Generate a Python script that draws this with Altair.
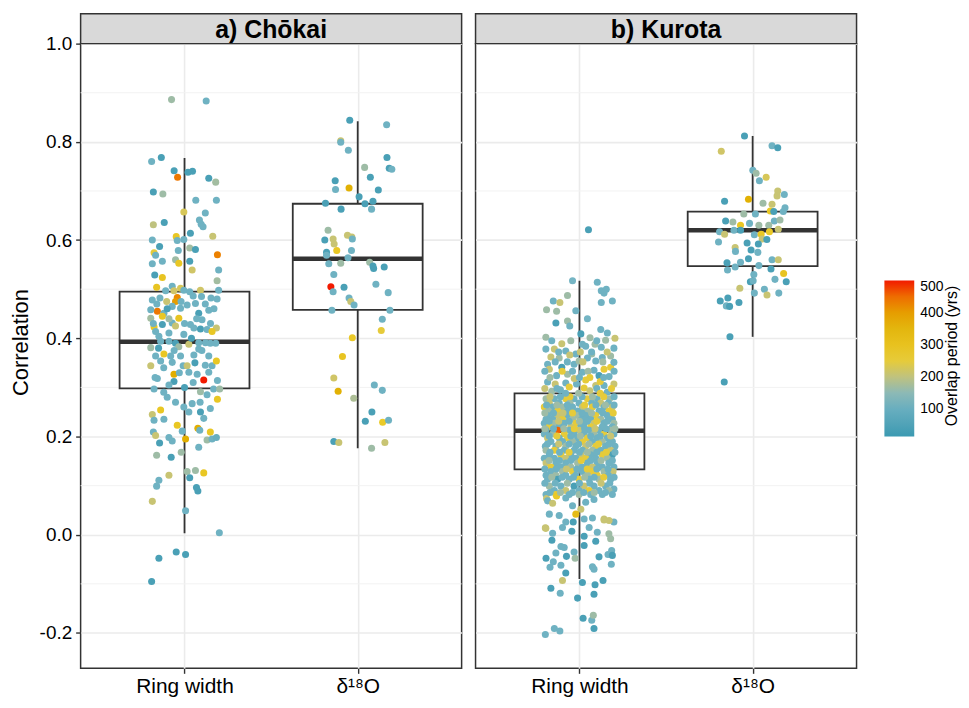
import altair as alt
import pandas as pd

PANELS = ["a) Chōkai", "b) Kurota"]
PROXIES = ["Ring width", "δ¹⁸O"]
Y_TICKS = [-0.2, 0.0, 0.2, 0.4, 0.6, 0.8, 1.0]
Y_MINOR = [-0.1, 0.1, 0.3, 0.5, 0.7, 0.9]
LEGEND_TITLE = "Overlap period (yrs)"
LEGEND_TICKS = [100, 200, 300, 400, 500]
COLOR_STOPS = [15, 136.25, 257.5, 378.75, 500]
COLORS = ["#3B9AB2", "#78B7C5", "#EBCC2A", "#E1AF00", "#F21A00"]

# boxplot statistics (Chōkai RW, Chōkai δ18O, Kurota RW, Kurota δ18O)
BOX_PANEL = [0, 0, 1, 1]
BOX_PROXY = [0, 1, 0, 1]
BOX_LOW = [0.003, 0.176, -0.090, 0.403]
BOX_Q1 = [0.298, 0.458, 0.133, 0.547]
BOX_MED = [0.393, 0.562, 0.212, 0.620]
BOX_Q3 = [0.495, 0.674, 0.288, 0.658]
BOX_HIGH = [0.767, 0.842, 0.517, 0.812]

# points: (jitter, correlation, overlap period)
CHOKAI_RW = [
    (-0.075, 0.886, 165), (0.125, 0.883, 115), (-0.19, 0.76, 115), (-0.134, 0.768, 40), (-0.06, 0.741, 40),
    (-0.04, 0.728, 440), (0.02, 0.738, 40), (0.046, 0.74, 40), (0.14, 0.726, 40), (0.18, 0.718, 170),
    (-0.18, 0.698, 40), (-0.125, 0.694, 165), (0.065, 0.681, 115), (0.184, 0.681, 115), (-0.004, 0.657, 230),
    (0.12, 0.655, 115), (-0.18, 0.631, 200), (-0.117, 0.636, 40), (0.086, 0.641, 115), (0.096, 0.632, 115),
    (0.107, 0.627, 115), (0.034, 0.614, 40), (0.163, 0.608, 210), (-0.186, 0.600, 115), (-0.048, 0.607, 280),
    (-0.042, 0.599, 115), (-0.004, 0.601, 115), (-0.144, 0.587, 40), (-0.176, 0.574, 250), (0.03, 0.584, 170),
    (0.063, 0.581, 40), (0.19, 0.570, 430), (-0.036, 0.579, 115), (-0.167, 0.569, 115),
    (-0.186, 0.552, 115), (-0.128, 0.557, 115), (-0.052, 0.560, 165), (-0.033, 0.553, 280), (0.03, 0.557, 40),
    (0.044, 0.539, 220), (0.197, 0.539, 115), (-0.172, 0.529, 40), (-0.128, 0.524, 290), (0.188, 0.517, 170),
    (-0.161, 0.504, 290), (-0.071, 0.506, 115), (-0.109, 0.497, 115), (-0.061, 0.497, 220), (-0.023, 0.502, 230),
    (-0.004, 0.498, 115), (0.03, 0.495, 115), (0.092, 0.498, 220), (0.197, 0.498, 115), (-0.042, 0.483, 420),
    (-0.052, 0.475, 400), (-0.186, 0.478, 115), (-0.142, 0.482, 115), (-0.103, 0.475, 210), (0.05, 0.486, 115),
    (0.098, 0.485, 115), (0.153, 0.482, 115), (0.188, 0.480, 115), (0.015, 0.468, 115), (0.063, 0.471, 115),
    (-0.071, 0.465, 115), (-0.023, 0.461, 115), (-0.157, 0.455, 440), (-0.195, 0.458, 115), (-0.119, 0.451, 115),
    (0.14, 0.457, 115), (0.082, 0.451, 40), (-0.195, 0.441, 170), (-0.033, 0.441, 290), (-0.128, 0.445, 280),
    (0.101, 0.438, 115), (-0.071, 0.431, 115), (0.034, 0.428, 115), (-0.128, 0.428, 40), (-0.176, 0.423, 280),
    (-0.052, 0.425, 210), (0.184, 0.421, 210), (-0.167, 0.414, 115), (0.054, 0.421, 115), (0.092, 0.419, 40),
    (0.13, 0.418, 115), (0.159, 0.414, 280), (-0.148, 0.404, 115), (-0.09, 0.411, 115), (-0.004, 0.408, 115),
    (-0.138, 0.394, 115), (-0.09, 0.394, 115), (-0.052, 0.390, 40), (0.025, 0.388, 210), (0.082, 0.391, 115),
    (0.121, 0.391, 115), (0.149, 0.390, 115), (-0.195, 0.381, 165), (-0.033, 0.383, 165), (0.082, 0.378, 115),
    (-0.167, 0.364, 115), (-0.119, 0.368, 280), (-0.08, 0.364, 115), (-0.023, 0.364, 115), (0.054, 0.366, 115),
    (0.14, 0.364, 115), (-0.195, 0.344, 210), (-0.138, 0.354, 115), (-0.071, 0.351, 115), (-0.008, 0.344, 115),
    (0.159, 0.344, 115), (0.184, 0.354, 280), (0.015, 0.344, 210), (0.025, 0.331, 115), (0.073, 0.327, 115),
    (-0.061, 0.327, 380), (0.111, 0.315, 500), (0.14, 0.331, 115), (-0.157, 0.318, 115), (-0.061, 0.312, 40),
    (-0.09, 0.305, 115), (-0.176, 0.297, 115), (0.19, 0.314, 115), (0.168, 0.297, 115), (0.203, 0.297, 165),
    (0.092, 0.291, 165), (0.19, 0.276, 280), (-0.1, 0.280, 115), (-0.052, 0.270, 115), (-0.004, 0.260, 115),
    (0.044, 0.267, 115), (0.149, 0.257, 115), (0.025, 0.250, 115), (0.092, 0.250, 40), (-0.186, 0.245, 210),
    (-0.138, 0.254, 280), (-0.176, 0.233, 115), (-0.119, 0.235, 115), (0.111, 0.237, 115),
    (-0.042, 0.223, 280), (0.077, 0.217, 380), (0.149, 0.209, 280), (-0.18, 0.209, 115), (-0.167, 0.202, 210),
    (-0.013, 0.211, 115), (0.088, 0.213, 115), (-0.09, 0.198, 115), (-0.071, 0.191, 115), (0.006, 0.195, 380),
    (0.13, 0.193, 165), (0.159, 0.195, 115), (0.184, 0.198, 100), (-0.144, 0.187, 40), (-0.019, 0.168, 165),
    (0.082, 0.178, 115), (-0.161, 0.162, 165), (-0.077, 0.158, 40), (0.015, 0.129, 165), (0.063, 0.131, 165),
    (0.111, 0.126, 280), (-0.09, 0.121, 210), (0.03, 0.116, 40), (-0.148, 0.111, 115), (-0.161, 0.099, 115),
    (0.069, 0.096, 40), (0.077, 0.089, 40), (-0.186, 0.068, 210), (0.006, 0.049, 115), (0.201, 0.004, 115),
    (-0.148, -0.048, 40), (-0.048, -0.035, 40), (0.006, -0.040, 40), (-0.19, -0.095, 40),
    (-0.16, 0.47, 115), (-0.1, 0.46, 40), (-0.02, 0.475, 115), (0.12, 0.47, 115), (0.17, 0.46, 115),
    (-0.18, 0.43, 115), (-0.09, 0.44, 165), (0.0, 0.43, 115), (0.07, 0.44, 115), (0.15, 0.43, 115),
    (-0.15, 0.38, 40), (-0.06, 0.375, 115), (0.04, 0.40, 40), (0.1, 0.375, 115), (0.18, 0.39, 115),
    (-0.12, 0.34, 115), (-0.03, 0.33, 115), (0.06, 0.35, 40), (0.12, 0.345, 115), (-0.17, 0.32, 115),
    (0.05, 0.31, 115), (0.0, 0.30, 40), (-0.12, 0.29, 115), (0.13, 0.285, 115), (0.09, 0.27, 115),
]

CHOKAI_O18 = [
    (-0.046, 0.844, 40), (0.167, 0.835, 115), (-0.098, 0.802, 210), (-0.098, 0.799, 115), (-0.054, 0.783, 115),
    (0.169, 0.768, 40), (0.182, 0.746, 40), (0.197, 0.744, 115), (0.04, 0.748, 165), (0.073, 0.728, 40),
    (-0.13, 0.721, 40), (-0.128, 0.703, 115), (-0.05, 0.706, 370), (0.119, 0.702, 40), (0.008, 0.688, 40),
    (0.042, 0.674, 40), (0.088, 0.679, 40), (0.08, 0.663, 115), (-0.186, 0.675, 40), (-0.096, 0.663, 40),
    (-0.171, 0.620, 165), (-0.142, 0.602, 210), (-0.136, 0.592, 210), (-0.19, 0.600, 40), (-0.059, 0.610, 210),
    (-0.034, 0.606, 210), (-0.031, 0.602, 115), (-0.121, 0.579, 280), (-0.18, 0.575, 40), (-0.036, 0.579, 115),
    (-0.18, 0.569, 115), (-0.167, 0.552, 115), (-0.098, 0.553, 165), (-0.056, 0.564, 115), (0.069, 0.555, 165),
    (0.088, 0.547, 40), (0.092, 0.542, 40), (0.153, 0.545, 40), (-0.138, 0.530, 115), (-0.155, 0.505, 500),
    (-0.142, 0.495, 115), (-0.079, 0.504, 40), (0.105, 0.510, 115), (0.176, 0.493, 115), (-0.05, 0.482, 115),
    (-0.04, 0.475, 210), (-0.021, 0.468, 115), (-0.149, 0.457, 115), (0.186, 0.457, 115), (0.142, 0.439, 115),
    (0.136, 0.416, 250), (-0.031, 0.401, 270), (-0.088, 0.363, 290), (-0.138, 0.319, 220), (0.096, 0.305, 115),
    (0.142, 0.294, 115), (-0.113, 0.292, 370), (-0.023, 0.278, 180), (0.082, 0.250, 40), (0.044, 0.231, 40),
    (0.144, 0.229, 260), (0.178, 0.233, 115), (-0.138, 0.190, 40), (-0.109, 0.188, 210), (0.080, 0.176, 165),
    (0.157, 0.188, 210),
]

KUROTA_RW = [
    (0.052, 0.621, 40), (-0.04, 0.517, 130), (0.103, 0.514, 115), (-0.069, 0.487, 165), (0.126, 0.497, 115),
    (0.155, 0.500, 115), (0.142, 0.492, 115), (-0.151, 0.476, 115), (-0.113, 0.473, 210), (0.126, 0.473, 115),
    (0.19, 0.476, 115), (-0.19, 0.458, 165), (-0.132, 0.455, 165), (-0.021, 0.456, 115), (-0.136, 0.431, 40),
    (-0.069, 0.435, 165), (-0.056, 0.425, 115), (0.046, 0.440, 130), (0.008, 0.409, 40), (0.123, 0.418, 115),
    (0.161, 0.411, 115), (-0.194, 0.402, 165), (0.061, 0.401, 165), (0.017, 0.388, 115), (-0.102, 0.389, 210),
    (0.205, 0.400, 210), (0.151, 0.396, 165), (0.090, 0.388, 165), (0.126, 0.382, 115), (-0.194, 0.378, 115),
    (-0.145, 0.378, 210), (-0.079, 0.374, 115), (-0.021, 0.368, 115), (0.036, 0.384, 115), (0.199, 0.380, 115),
    (-0.165, 0.362, 210), (-0.117, 0.360, 165), (-0.056, 0.366, 210), (0.071, 0.368, 165), (0.132, 0.361, 115),
    (0.18, 0.364, 165), (-0.184, 0.347, 115), (-0.174, 0.337, 210), (-0.102, 0.341, 40), (-0.031, 0.347, 115),
    (-0.002, 0.354, 165), (0.046, 0.360, 115), (0.094, 0.354, 115), (0.18, 0.341, 250), (0.199, 0.351, 115),
    (0.142, 0.337, 250), (-0.132, 0.324, 115), (-0.069, 0.327, 165), (0.017, 0.331, 115), (0.084, 0.335, 115),
    (0.113, 0.324, 40), (0.171, 0.322, 115), (-0.184, 0.311, 115), (-0.140, 0.307, 210), (-0.079, 0.309, 115),
    (0.036, 0.315, 250), (-0.017, 0.307, 115), (0.094, 0.304, 210), (0.142, 0.304, 115), (0.199, 0.307, 210),
    (-0.059, 0.301, 250), (0.027, 0.299, 250), (-0.16, 0.292, 165), (-0.11, 0.295, 115), (0.06, 0.293, 210),
    (0.16, 0.290, 115), (-0.03, 0.318, 210), (0.12, 0.312, 250),
    (-0.193, 0.277, 165), (-0.145, 0.277, 115), (-0.079, 0.277, 250), (-0.031, 0.277, 115), (0.046, 0.277, 250),
    (0.103, 0.277, 115), (0.174, 0.277, 165),
    (-0.174, 0.268, 210), (-0.117, 0.268, 115), (-0.055, 0.268, 165), (-0.002, 0.268, 115), (0.071, 0.268, 115),
    (0.123, 0.268, 210), (0.167, 0.268, 115),
    (-0.203, 0.260, 250), (-0.155, 0.260, 115), (-0.098, 0.260, 165), (-0.040, 0.260, 115), (0.017, 0.260, 210),
    (0.075, 0.260, 250), (0.142, 0.260, 115), (0.190, 0.260, 210),
    (-0.178, 0.252, 165), (-0.126, 0.252, 250), (-0.069, 0.252, 115), (-0.011, 0.252, 115), (0.046, 0.252, 165),
    (0.113, 0.252, 115), (0.170, 0.252, 250),
    (-0.184, 0.243, 115), (-0.126, 0.243, 210), (-0.069, 0.243, 115), (-0.011, 0.243, 165), (0.036, 0.243, 115),
    (0.094, 0.243, 250), (0.161, 0.243, 115),
    (-0.193, 0.235, 115), (-0.155, 0.235, 115), (-0.098, 0.235, 250), (-0.040, 0.235, 165), (0.013, 0.235, 115),
    (0.065, 0.235, 115), (0.123, 0.235, 165), (0.190, 0.235, 115),
    (-0.203, 0.227, 115), (-0.145, 0.227, 165), (-0.088, 0.227, 115), (-0.021, 0.227, 250), (0.027, 0.227, 115),
    (0.084, 0.227, 210), (0.142, 0.227, 115), (0.199, 0.227, 165),
    (-0.174, 0.220, 250), (-0.117, 0.220, 115), (-0.050, 0.220, 210), (0.008, 0.220, 115), (0.065, 0.220, 250),
    (0.132, 0.220, 115), (0.190, 0.220, 115),
    (-0.193, 0.213, 115), (-0.126, 0.213, 460), (-0.059, 0.213, 115), (-0.002, 0.213, 210), (0.056, 0.213, 115),
    (0.113, 0.213, 115), (0.180, 0.213, 165),
    (-0.203, 0.205, 115), (-0.155, 0.205, 165), (-0.088, 0.205, 250), (-0.031, 0.205, 115), (0.027, 0.205, 115),
    (0.084, 0.205, 165), (0.142, 0.205, 250), (0.199, 0.205, 115),
    (-0.184, 0.197, 210), (-0.117, 0.197, 115), (-0.069, 0.197, 250), (-0.011, 0.197, 115), (0.046, 0.197, 250),
    (0.103, 0.197, 115), (0.161, 0.197, 115),
    (-0.165, 0.190, 115), (-0.098, 0.190, 115), (-0.040, 0.190, 165), (0.017, 0.190, 250), (0.075, 0.190, 115),
    (0.132, 0.190, 165), (0.190, 0.190, 115),
    (-0.197, 0.180, 115), (-0.136, 0.180, 115), (-0.079, 0.180, 165), (-0.021, 0.180, 115), (0.036, 0.180, 210),
    (0.094, 0.180, 250), (0.151, 0.180, 115), (0.205, 0.180, 115),
    (-0.193, 0.172, 165), (-0.145, 0.172, 250), (-0.088, 0.172, 115), (-0.031, 0.172, 115), (0.017, 0.172, 115),
    (0.075, 0.172, 165), (0.123, 0.172, 115), (0.180, 0.172, 210),
    (-0.174, 0.163, 115), (-0.107, 0.163, 250), (-0.050, 0.163, 115), (0.008, 0.163, 210), (0.065, 0.163, 115),
    (0.132, 0.163, 250), (0.190, 0.163, 40),
    (-0.203, 0.156, 115), (-0.145, 0.156, 115), (-0.079, 0.156, 210), (-0.021, 0.156, 115), (0.036, 0.156, 250),
    (0.094, 0.156, 115), (0.161, 0.156, 165),
    (-0.193, 0.146, 210), (-0.136, 0.146, 115), (-0.079, 0.146, 115), (-0.011, 0.146, 165), (0.046, 0.146, 115),
    (0.103, 0.146, 115), (0.170, 0.146, 115),
    (-0.165, 0.138, 250), (-0.107, 0.138, 115), (-0.050, 0.138, 165), (0.017, 0.138, 115), (0.075, 0.138, 210),
    (0.132, 0.138, 115), (0.199, 0.138, 115),
    (-0.165, 0.129, 115), (-0.098, 0.129, 165), (-0.040, 0.129, 250), (0.017, 0.129, 115), (0.075, 0.129, 250),
    (0.142, 0.129, 165), (0.194, 0.129, 210),
    (-0.193, 0.121, 115), (-0.136, 0.121, 165), (-0.079, 0.121, 115), (-0.021, 0.121, 115), (0.046, 0.121, 165),
    (0.103, 0.121, 250), (0.167, 0.121, 115),
    (-0.184, 0.113, 115), (-0.126, 0.113, 40), (-0.059, 0.113, 115), (-0.002, 0.113, 250), (0.056, 0.113, 115),
    (0.113, 0.113, 165), (0.180, 0.113, 115),
    (-0.174, 0.099, 165), (-0.107, 0.099, 115), (-0.031, 0.099, 40), (0.027, 0.099, 210), (0.084, 0.099, 115),
    (0.151, 0.099, 115), (0.199, 0.093, 115),
    (-0.145, 0.090, 115), (-0.079, 0.090, 210), (-0.002, 0.090, 115), (0.056, 0.090, 250), (0.113, 0.090, 115),
    (0.170, 0.090, 165),
    (-0.193, 0.082, 115), (-0.136, 0.082, 250), (-0.059, 0.082, 115), (-0.002, 0.082, 165), (0.065, 0.082, 115),
    (0.132, 0.082, 115), (0.190, 0.082, 115), (-0.19, 0.074, 210),
    (-0.184, 0.069, 115), (-0.155, 0.064, 210), (-0.132, 0.079, 270), (-0.079, 0.075, 115), (-0.040, 0.059, 115),
    (0.008, 0.052, 210), (-0.021, 0.042, 330), (0.036, 0.066, 115), (0.084, 0.072, 115), (0.142, 0.032, 210),
    (0.199, 0.026, 115), (-0.174, 0.042, 115), (-0.117, 0.039, 115), (-0.079, 0.026, 115), (-0.036, 0.026, 40),
    (-0.197, 0.014, 210), (-0.155, 0.003, 115), (-0.098, 0.015, 115), (-0.044, 0.007, 40), (0.027, 0.032, 115),
    (0.056, 0.015, 115), (0.075, 0.034, 115), (0.103, 0.005, 115), (0.170, 0.002, 165), (0.180, -0.008, 165),
    (0.027, -0.003, 40), (-0.159, -0.011, 40), (0.094, -0.013, 40), (-0.107, -0.024, 115), (0.027, -0.022, 40),
    (-0.136, -0.037, 115), (-0.088, -0.026, 115), (-0.031, -0.035, 115), (0.186, -0.032, 115), (0.165, -0.040, 115),
    (0.190, -0.042, 40), (-0.193, -0.048, 40), (-0.075, -0.044, 40), (-0.025, -0.048, 165), (0.113, -0.045, 40),
    (-0.151, -0.055, 115), (-0.170, -0.066, 115), (-0.107, -0.062, 115), (0.075, -0.065, 115), (0.084, -0.070, 115),
    (0.184, -0.060, 115), (-0.079, -0.078, 40), (-0.098, -0.093, 210), (0.017, -0.097, 40), (0.136, -0.093, 40),
    (0.090, -0.102, 40), (-0.165, -0.109, 40), (-0.111, -0.119, 115), (0.084, -0.121, 40), (-0.011, -0.129, 40),
    (0.021, -0.170, 40), (0.071, -0.174, 115), (0.080, -0.164, 165), (0.084, -0.191, 40), (-0.145, -0.191, 115),
    (-0.113, -0.196, 115), (-0.197, -0.203, 115), (0.171, 0.029, 210), (0.142, 0.030, 210), (-0.194, 0.013, 210),
    (-0.17, 0.281, 210), (-0.11, 0.281, 115), (-0.055, 0.281, 250), (0.015, 0.281, 115), (0.075, 0.281, 165),
    (0.14, 0.281, 250), (0.2, 0.281, 115),
    (-0.19, 0.264, 115), (-0.13, 0.264, 165), (-0.07, 0.264, 115), (0.03, 0.264, 250), (0.095, 0.264, 115),
    (0.15, 0.264, 165), (0.2, 0.264, 115),
    (-0.2, 0.248, 165), (-0.15, 0.248, 115), (-0.095, 0.248, 210), (-0.04, 0.248, 250), (0.015, 0.248, 115),
    (0.07, 0.248, 165), (0.135, 0.248, 115), (0.195, 0.248, 250),
    (-0.175, 0.231, 115), (-0.12, 0.231, 210), (-0.06, 0.231, 115), (0.0, 0.231, 165), (0.045, 0.231, 115),
    (0.1, 0.231, 250), (0.16, 0.231, 115),
    (-0.2, 0.216, 165), (-0.15, 0.216, 115), (-0.09, 0.216, 165), (-0.03, 0.216, 250), (0.03, 0.216, 115),
    (0.09, 0.216, 210), (0.155, 0.216, 115), (0.205, 0.216, 165),
    (-0.175, 0.201, 115), (-0.13, 0.201, 250), (-0.05, 0.201, 115), (0.005, 0.201, 165), (0.065, 0.201, 115),
    (0.12, 0.201, 115), (0.18, 0.201, 210),
    (-0.185, 0.185, 115), (-0.12, 0.185, 210), (-0.06, 0.185, 115), (-0.005, 0.185, 115), (0.055, 0.185, 165),
    (0.11, 0.185, 250), (0.17, 0.185, 115),
    (-0.17, 0.168, 115), (-0.115, 0.168, 115), (-0.06, 0.168, 250), (0.0, 0.168, 115), (0.045, 0.168, 165),
    (0.1, 0.168, 115), (0.155, 0.168, 250), (0.205, 0.168, 115),
    (-0.175, 0.151, 165), (-0.115, 0.151, 115), (-0.05, 0.151, 115), (0.01, 0.151, 250), (0.065, 0.151, 115),
    (0.125, 0.151, 165), (0.19, 0.151, 115),
    (-0.2, 0.134, 115), (-0.135, 0.134, 115), (-0.075, 0.134, 210), (-0.015, 0.134, 115), (0.045, 0.134, 250),
    (0.1, 0.134, 115), (0.165, 0.134, 115),
    (-0.16, 0.117, 165), (-0.1, 0.117, 115), (-0.035, 0.117, 115), (0.03, 0.117, 165), (0.085, 0.117, 115),
    (0.14, 0.117, 250), (0.2, 0.117, 115),
    (-0.2, 0.105, 115), (-0.14, 0.105, 115), (-0.07, 0.105, 165), (0.0, 0.105, 115), (0.06, 0.105, 115),
    (0.125, 0.105, 210), (0.175, 0.105, 115),
    (-0.17, 0.086, 115), (-0.11, 0.086, 165), (-0.04, 0.086, 115), (0.025, 0.086, 115), (0.085, 0.086, 165),
    (0.15, 0.086, 115),
    (-0.16, 0.395, 115), (-0.05, 0.395, 165), (0.1, 0.395, 115),
    (-0.12, 0.372, 115), (0.005, 0.372, 210), (0.07, 0.372, 115), (0.16, 0.372, 210),
    (-0.14, 0.352, 115), (-0.07, 0.352, 115), (0.02, 0.352, 210), (0.135, 0.352, 165),
    (-0.2, 0.333, 115), (-0.1, 0.333, 250), (-0.04, 0.333, 115), (0.05, 0.333, 165), (0.2, 0.333, 115),
    (-0.17, 0.320, 165), (0.0, 0.320, 115), (0.06, 0.320, 250), (0.14, 0.320, 115),
    (-0.2, 0.298, 210), (-0.13, 0.298, 115), (0.1, 0.298, 115), (0.185, 0.298, 250),
    (-0.08, 0.288, 115), (-0.005, 0.288, 165), (0.12, 0.288, 250),
]

KUROTA_O18 = [
    (-0.047, 0.812, 40), (-0.181, 0.781, 220), (0.112, 0.792, 115), (0.145, 0.788, 40), (0.001, 0.742, 115),
    (0.02, 0.736, 165), (0.039, 0.721, 115), (0.078, 0.728, 230), (0.145, 0.700, 210), (0.141, 0.690, 210),
    (0.183, 0.693, 115), (0.187, 0.666, 115), (-0.162, 0.679, 40), (-0.024, 0.683, 370), (0.06, 0.675, 165),
    (0.112, 0.673, 210), (0.102, 0.659, 270), (0.122, 0.658, 40), (0.177, 0.658, 115), (-0.051, 0.653, 165),
    (0.016, 0.653, 115), (0.125, 0.639, 115), (0.158, 0.641, 165), (-0.156, 0.639, 40), (-0.114, 0.637, 165),
    (-0.07, 0.630, 280), (-0.018, 0.634, 115), (0.036, 0.630, 165), (0.093, 0.630, 165), (0.148, 0.622, 210),
    (-0.191, 0.617, 115), (-0.162, 0.612, 210), (-0.108, 0.620, 115), (-0.07, 0.620, 40), (0.01, 0.611, 115),
    (0.049, 0.612, 280), (0.097, 0.617, 270), (0.055, 0.602, 210), (0.082, 0.601, 40), (-0.197, 0.596, 115),
    (-0.032, 0.594, 40), (0.033, 0.592, 40), (-0.101, 0.585, 210), (-0.099, 0.577, 115), (-0.009, 0.580, 40),
    (0.03, 0.575, 115), (-0.024, 0.562, 40), (-0.07, 0.555, 115), (-0.148, 0.554, 40), (-0.145, 0.539, 115),
    (-0.101, 0.545, 115), (0.036, 0.548, 115), (0.106, 0.541, 40), (0.112, 0.560, 115), (0.148, 0.560, 210),
    (0.179, 0.532, 290), (0.007, 0.530, 115), (-0.013, 0.515, 40), (0.003, 0.517, 115), (0.129, 0.520, 115),
    (0.194, 0.515, 40), (-0.074, 0.502, 210), (0.068, 0.500, 115), (0.083, 0.488, 210), (0.01, 0.492, 115),
    (0.151, 0.492, 115), (-0.187, 0.476, 40), (-0.143, 0.482, 40), (-0.152, 0.466, 115), (-0.133, 0.465, 40),
    (-0.079, 0.473, 40), (-0.131, 0.403, 40), (-0.164, 0.311, 40),
]

GROUPS = [(0, 0, CHOKAI_RW), (0, 1, CHOKAI_O18), (1, 0, KUROTA_RW), (1, 1, KUROTA_O18)]

rows = []
for p, k, pts in GROUPS:
    for jit, r, ov in pts:
        rows.append({"panel": PANELS[p], "x": k + 1 + jit, "r": r, "overlap": ov})
points = pd.DataFrame(rows)

BOX_HALF = 0.375
box = pd.DataFrame({
    "panel": [PANELS[p] for p in BOX_PANEL],
    "x": [k + 1 for k in BOX_PROXY],
    "low": BOX_LOW, "q1": BOX_Q1, "med": BOX_MED, "q3": BOX_Q3, "high": BOX_HIGH,
})
box["xlo"] = box["x"] - BOX_HALF
box["xhi"] = box["x"] + BOX_HALF
minor = pd.DataFrame({"v": Y_MINOR})

W, H = 383, 628
FONT = "Liberation Sans"
DARK = "#333333"

xscale = alt.Scale(domain=[0.4, 2.6], nice=False, zero=False)
yscale = alt.Scale(domain=[-0.272, 1.0], nice=False, zero=False)

x_axis = alt.Axis(
    values=[1, 2], title=None, grid=True, gridColor="#EBEBEB", gridWidth=1.6,
    labelExpr=f"datum.value == 1 ? '{PROXIES[0]}' : '{PROXIES[1]}'",
    tickColor=DARK, tickSize=5, tickWidth=1.4, labelFontSize=21, labelColor="black",
    labelPadding=2, domain=False, labelFont=FONT,
)

color = alt.Color(
    "overlap:Q",
    scale=alt.Scale(domain=COLOR_STOPS, range=COLORS, interpolate="lab"),
    legend=alt.Legend(
        title=None, values=LEGEND_TICKS, direction="vertical",
        gradientLength=157, gradientThickness=30, gradientStrokeWidth=0,
        orient="none", legendX=808, legendY=238,
        labelFontSize=14, labelColor="black", labelOffset=6, labelFont=FONT,
    ),
)


def panel(i):
    if i == 0:
        y_axis = alt.Axis(
            values=Y_TICKS, title="Correlation", grid=True, gridColor="#EBEBEB", gridWidth=1.6,
            labelExpr="(datum.value < 0 ? '-' : '') + format(abs(datum.value), '.1f')",
            tickColor=DARK, tickSize=5, tickWidth=1.4, labelFontSize=19, labelColor="black",
            labelPadding=4, titleFontSize=22, titleFontWeight="normal", titleColor="black",
            titlePadding=7, titleY=300, domain=False, labelFont=FONT, titleFont=FONT,
        )
    else:
        y_axis = alt.Axis(
            values=Y_TICKS, title=None, grid=True, gridColor="#EBEBEB", gridWidth=1.6,
            labels=False, ticks=False, domain=False,
        )
    pts = points[points.panel == PANELS[i]]
    bx = box[box.panel == PANELS[i]]

    def Y(f):
        return alt.Y(f, type="quantitative", scale=yscale, axis=y_axis)

    def X(f):
        return alt.X(f, type="quantitative", scale=xscale, axis=x_axis)

    grid_minor = alt.Chart(minor).mark_rule(color="#F2F2F2", strokeWidth=1).encode(y=Y("v"))
    whisk = alt.Chart(bx).mark_rule(color=DARK, strokeWidth=1.8).encode(
        x=X("x"), y=Y("low"), y2="high")
    rect = alt.Chart(bx).mark_rect(fill="white", stroke=DARK, strokeWidth=1.8).encode(
        x=X("xlo"), x2="xhi", y=Y("q1"), y2="q3")
    med = alt.Chart(bx).mark_rule(color=DARK, strokeWidth=4.5).encode(
        x=X("xlo"), x2="xhi", y=Y("med"))
    dots = alt.Chart(pts).mark_circle(size=50, opacity=1).encode(
        x=X("x"), y=Y("r"), color=color)
    strip_df = pd.DataFrame({"label": [PANELS[i]]})
    strip = alt.Chart(strip_df).mark_rect(fill="#D9D9D9", stroke=DARK, strokeWidth=1.5).encode(
        x=alt.value(0), x2=alt.value(W), y=alt.value(-30), y2=alt.value(0))
    strip_txt = alt.Chart(strip_df).mark_text(
        font=FONT, fontSize=25, fontWeight="bold", color="black", baseline="middle", align="center"
    ).encode(text="label:N", x=alt.value(W / 2), y=alt.value(-14))
    layers = [grid_minor, whisk, rect, med, dots, strip, strip_txt]
    if i == 1:
        ttl_df = pd.DataFrame({"t": [LEGEND_TITLE]})
        ttl = alt.Chart(ttl_df).mark_text(
            font=FONT, fontSize=16, color="black", angle=270, baseline="middle", align="center"
        ).encode(text="t:N", x=alt.value(479), y=alt.value(314))
        layers.append(ttl)
    return alt.layer(*layers).properties(width=W, height=H)


chart = alt.hconcat(panel(0), panel(1), spacing=10).resolve_scale(
    color="shared"
).properties(
    padding={"left": 0, "top": 2, "right": 0, "bottom": 0}
).configure(font=FONT).configure_view(stroke=DARK, strokeWidth=1.5)

chart.save("out.html", embed_options={"renderer": "svg", "actions": False})
